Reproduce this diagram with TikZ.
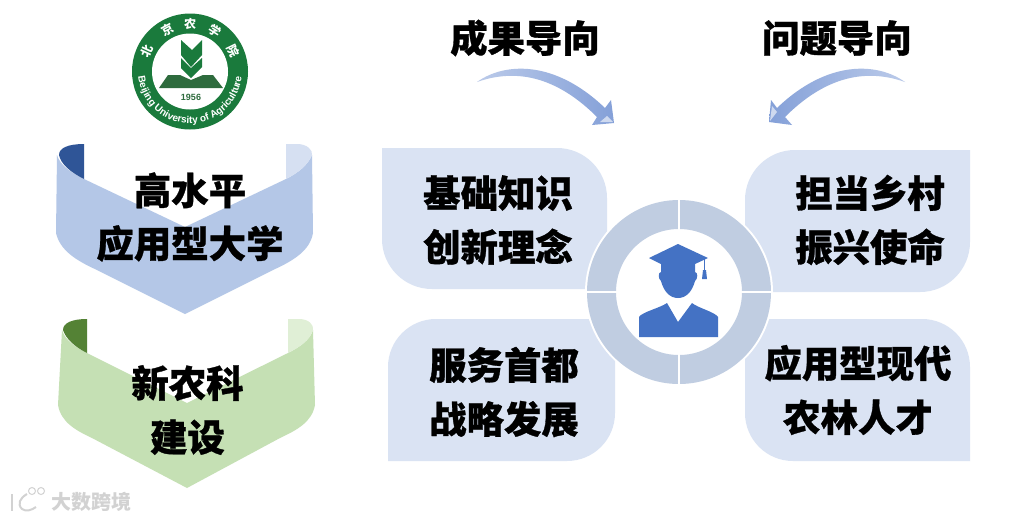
\documentclass[tikz,border=0pt]{standalone}
\usepackage{fontspec}
\usepackage{xcolor}
\usetikzlibrary{calc, decorations.text}
\newfontfamily\cjk[BoldFeatures={FakeBold=0.8}]{Noto Sans CJK SC}
\newfontfamily\cjkplain{Noto Sans CJK SC}
\newfontfamily\latinfont{Liberation Sans}
\definecolor{bandblue}{RGB}{180, 199, 231}
\definecolor{folddarkblue}{RGB}{47, 85, 151}
\definecolor{foldlightblue}{RGB}{214, 224, 242}
\definecolor{bandgreen}{RGB}{197, 224, 180}
\definecolor{folddarkgreen}{RGB}{84, 130, 53}
\definecolor{foldlightgreen}{RGB}{224, 239, 214}
\definecolor{boxblue}{RGB}{218, 227, 243}
\definecolor{ringblue}{RGB}{192, 205, 225}
\definecolor{personblue}{RGB}{68, 114, 196}
\definecolor{arrowblue}{RGB}{132, 160, 216}
\definecolor{logogreen}{RGB}{26, 122, 60}
\definecolor{bookgreen}{RGB}{46, 107, 61}
\tikzset{
    boxlabel/.style={font=\cjk\bfseries\fontsize{37.4}{54}\selectfont, align=center, text=black, inner sep=0pt},
    headlabel/.style={font=\cjk\bfseries\fontsize{37.4}{40}\selectfont, text=black, inner sep=0pt},
    sealchar/.style={font=\cjkplain\bfseries\fontsize{12}{12}\selectfont, text=white, inner sep=0pt},
    markgray/.style={draw=gray!35, line width=2pt}
}
\begin{document}
\begin{tikzpicture}[x=1pt, y=-1pt]
    \useasboundingbox (0,0) rectangle (1013,520);
    \fill[white] (0,0) rectangle (1013,520);

    \coordinate (logo) at (190,71.5);
    \fill[logogreen] (logo) circle[radius=58];
    \fill[white] (logo) circle[radius=38];
    \fill[logogreen] (181,40) -- (192,50) -- (202,40) -- (202,55) -- (191,67) -- (181,55) -- cycle;
    \fill[logogreen] (181,58) -- (191,68) -- (202,58) -- (202,67) -- (191,78) -- (181,68) -- cycle;
    \fill[bookgreen] (168,75) -- (180,75) -- (191,80) -- (203,75) -- (213,75) -- (223,88) -- (159,88) -- cycle;
    \node[font=\latinfont\bfseries\fontsize{9}{9}\selectfont, text=bookgreen, inner sep=0pt] (year) at (191,97) {1956};
    \node[sealchar, rotate=65] (seal1) at ($(logo)+(-155:48)$) {北};
    \node[sealchar, rotate=28] (seal2) at ($(logo)+(-118:48)$) {京};
    \node[sealchar, rotate=0] (seal3) at ($(logo)+(-90:48)$) {农};
    \node[sealchar, rotate=-32] (seal4) at ($(logo)+(-58:48)$) {学};
    \node[sealchar, rotate=-64] (seal5) at ($(logo)+(-26:48)$) {院};
    \path[decorate, decoration={text along path, text align=center,
        text={|\latinfont\bfseries\fontsize{10}{10}\selectfont\color{white}|Beijing University of Agriculture}}]
        ($(logo)+(180:52)$) arc[start angle=180, end angle=0, radius=52];

    \fill[bandblue] (84,179) -- (185,227) -- (286,179) .. controls (298,173) and (308,165) .. (312,155) -- (313,233) .. controls (310,250) and (295,260) .. (273,270) -- (185,314) -- (97,270) .. controls (75,260) and (60,250) .. (56,233) -- (57,155) .. controls (60,165) and (70,172) .. (84,179) -- cycle;
    \fill[folddarkblue] (84,144) -- (84,179) .. controls (70,172) and (61,164) .. (59,155) .. controls (59,148) and (68,144) .. (84,144) -- cycle;
    \fill[foldlightblue] (286,144) -- (297,144) .. controls (307,144) and (313,150) .. (312,155) .. controls (308,165) and (298,173) .. (286,179) -- cycle;

    \fill[bandgreen] (87,353) -- (187,403) -- (288,353) .. controls (300,347) and (310,340) .. (313,330) -- (315,405) .. controls (312,422) and (297,430) .. (280,438) -- (187,488) -- (92,438) .. controls (75,430) and (61,422) .. (58,405) -- (62,330) .. controls (65,340) and (75,347) .. (87,353) -- cycle;
    \fill[folddarkgreen] (87,319) -- (87,353) .. controls (75,347) and (66,339) .. (63,330) .. controls (63,323) and (72,319) .. (87,319) -- cycle;
    \fill[foldlightgreen] (288,319) -- (299,319) .. controls (309,319) and (314,325) .. (313,330) .. controls (310,340) and (300,347) .. (288,353) -- cycle;

    \node[boxlabel, font=\cjk\bfseries\fontsize{37.4}{53}\selectfont] (level) at (190,217) {高水平\\应用型大学};
    \node[boxlabel] (farm) at (187.5,410) {新农科\\建设};

    \fill[boxblue] (382,148) -- (557,148) arc[start angle=-90, end angle=0, radius=50] -- (607,289) -- (432,289) arc[start angle=90, end angle=180, radius=50] -- cycle;
    \fill[boxblue] (745,200) arc[start angle=180, end angle=270, radius=50] -- (970,150) -- (970,242) arc[start angle=0, end angle=90, radius=50] -- (745,292) -- cycle;
    \fill[boxblue] (388,367) arc[start angle=180, end angle=270, radius=48] -- (615,319) -- (615,413) arc[start angle=0, end angle=90, radius=48] -- (388,461) -- cycle;
    \fill[boxblue] (745,319) -- (922,319) arc[start angle=-90, end angle=0, radius=48] -- (970,461) -- (793,461) arc[start angle=90, end angle=180, radius=48] -- cycle;

    \node[boxlabel] (basic) at (498,220) {基础知识\\创新理念};
    \node[boxlabel] (mission) at (870,220) {担当乡村\\振兴使命};
    \node[boxlabel] (capital) at (504,392) {服务首都\\战略发展};
    \node[boxlabel] (talent) at (858,390) {应用型现代\\农林人才};

    \coordinate (hub) at (679,292);
    \fill[white] (hub) circle[radius=94];
    \foreach \a in {0,90,180,270}
        \fill[ringblue] ($(hub)+(\a:92)$) arc[start angle=\a, end angle=\a+90, radius=92] -- ($(hub)+(\a+90:63)$) arc[start angle=\a+90, end angle=\a, radius=63] -- cycle;
    \draw[white, line width=2pt] ($(hub)+(0:94)$) -- ($(hub)+(180:94)$);
    \draw[white, line width=2pt] ($(hub)+(90:94)$) -- ($(hub)+(270:94)$);

    \fill[personblue] (649,258) -- (678,244) -- (708,258) -- (695,264) -- (695,272) .. controls (698,272) and (698,279) .. (695,281) .. controls (692,292) and (686,298) .. (678,298) .. controls (670,298) and (664,292) .. (661,281) .. controls (658,279) and (658,272) .. (661,272) -- (661,264) -- cycle;
    \fill[personblue] (639,337) -- (639,317) .. controls (642,312) and (660,308) .. (667,303) -- (678,322) -- (692,303) .. controls (698,308) and (715,312) .. (718,317) -- (718,337) -- cycle;
    \draw[personblue, line width=1pt] (704,259) -- (704,272);
    \fill[personblue] (703,270) -- (706,270) -- (707,279) -- (702,279) -- cycle;

    \node[headlabel] (result) at (525,38) {成果导向};
    \node[headlabel] (problem) at (837,38) {问题导向};

    \shade[left color=arrowblue!55, right color=arrowblue] (477,82) .. controls (505,62) and (555,60) .. (605,108) -- (611,100) -- (614,123) -- (592,125) -- (597,117) .. controls (565,85) and (525,65) .. (477,82) -- cycle;
    \fill[arrowblue!40] (600,122) -- (607,116) -- (613,122) -- cycle;
    \shade[right color=arrowblue!55, left color=arrowblue] (905,82) .. controls (877,62) and (827,60) .. (777,108) -- (771,100) -- (769,122) -- (792,125) -- (785,117) .. controls (817,85) and (857,65) .. (905,82) -- cycle;
    \fill[arrowblue!40] (772,106) -- (777,112) -- (770,121) -- cycle;

    \draw[markgray] (12,494) -- (12,511);
    \draw[markgray] (27,494) .. controls (20,498) and (17,504) .. (22,509) .. controls (26,512) and (32,510) .. (36,507);
    \draw[markgray, line width=1pt] (32,491) circle[radius=3.5];
    \draw[markgray, line width=1pt] (41,491) circle[radius=3.5];
    \node[font=\cjkplain\bfseries\fontsize{20}{20}\selectfont, text=gray!35, inner sep=0pt] (mark) at (91,502) {大数跨境};
\end{tikzpicture}
\end{document}
